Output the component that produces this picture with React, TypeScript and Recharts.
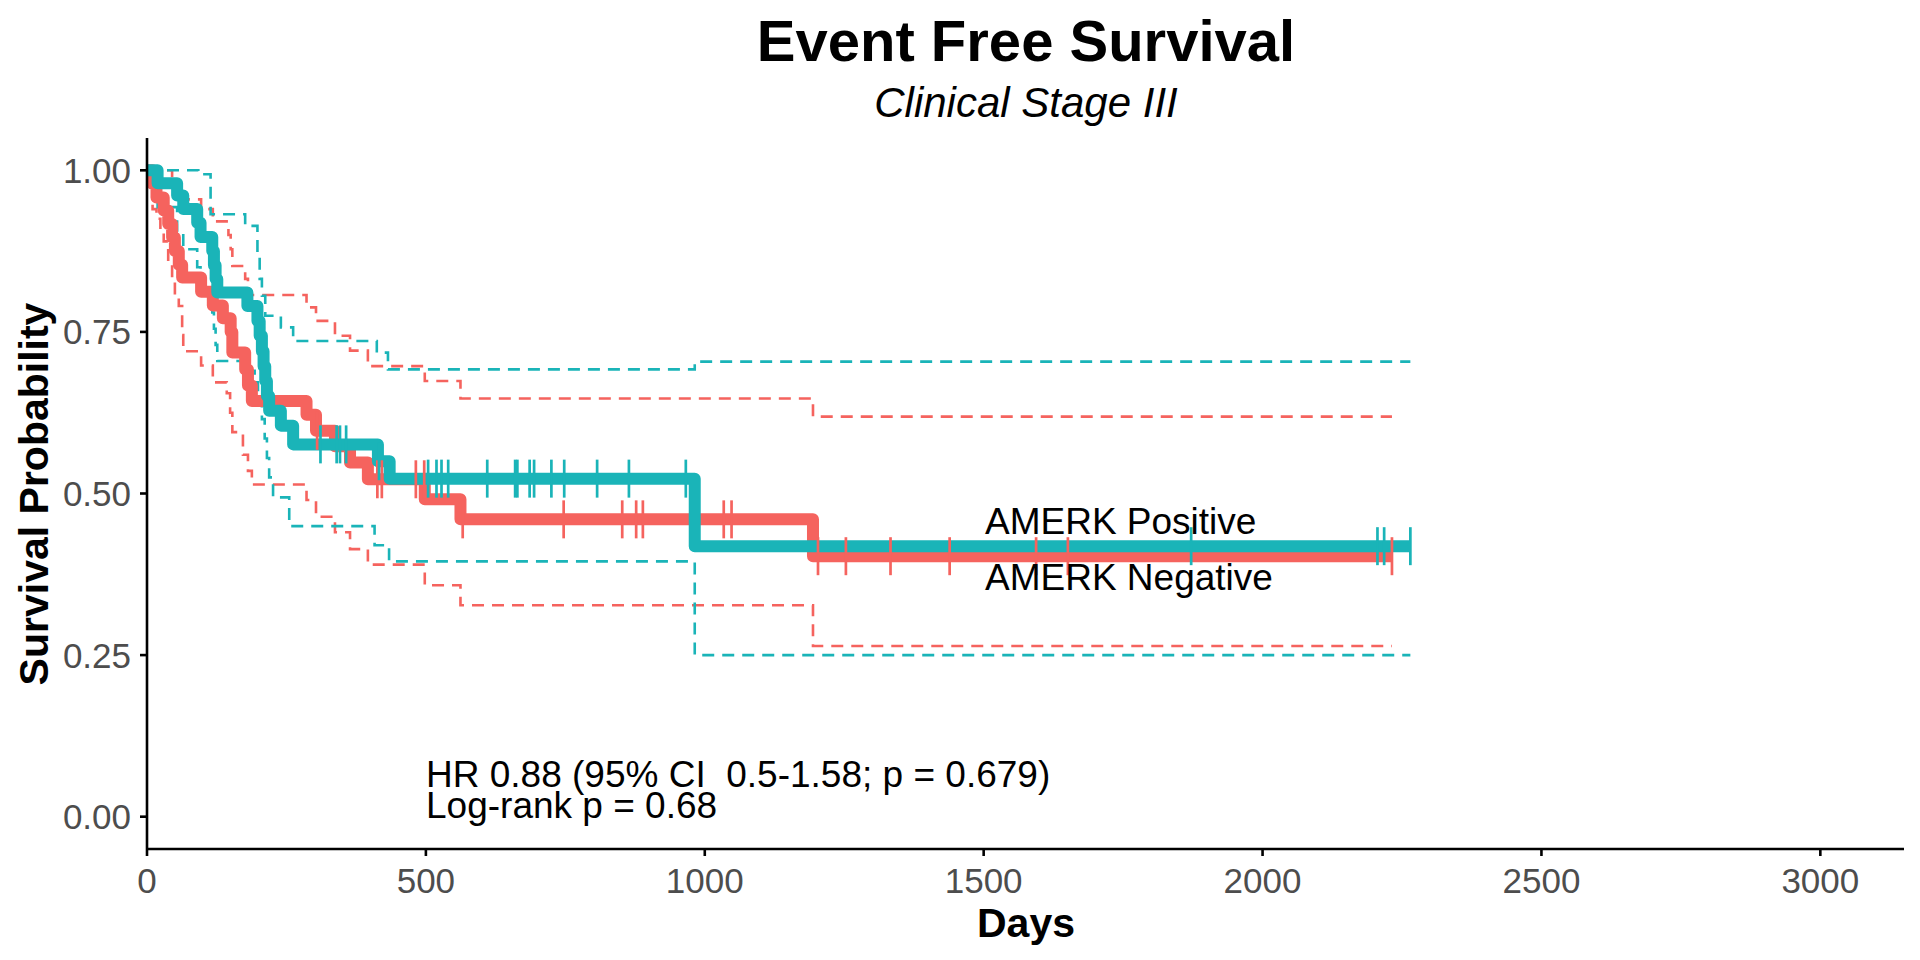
import { ComposedChart, Line, Scatter, XAxis, YAxis } from 'recharts'

const NEG = '#F5635E'
const POS = '#1AB4B8'
const FONT = '"Liberation Sans", Arial, sans-serif'

// Kaplan-Meier steps: [day, survival]
const negSurv = [
  [0, 1], [10, 0.979], [17, 0.958], [30, 0.938], [38, 0.917], [45, 0.896], [50, 0.875],
  [57, 0.854], [63, 0.834], [97, 0.812], [118, 0.791], [136, 0.771], [150, 0.75],
  [153, 0.718], [176, 0.692], [181, 0.667], [188, 0.643], [286, 0.622], [303, 0.597],
  [337, 0.573], [364, 0.548], [396, 0.522], [498, 0.491], [562, 0.46], [1194, 0.403],
  [2232, 0.403],
]
const negUpper = [
  [0, 1], [45, 0.987], [50, 0.974], [57, 0.962], [63, 0.955], [97, 0.94], [118, 0.921],
  [146, 0.9], [150, 0.878], [153, 0.852], [176, 0.832], [181, 0.807], [286, 0.788],
  [303, 0.767], [337, 0.744], [364, 0.721], [396, 0.697], [498, 0.674], [562, 0.647],
  [1194, 0.619], [2232, 0.619],
]
const negLower = [
  [0, 1], [10, 0.94], [17, 0.925], [24, 0.905], [30, 0.89], [38, 0.857], [45, 0.83],
  [50, 0.81], [57, 0.79], [63, 0.745], [65, 0.72], [97, 0.698], [118, 0.672], [143, 0.655],
  [149, 0.625], [153, 0.595], [172, 0.56], [181, 0.535], [188, 0.514], [286, 0.49],
  [303, 0.464], [337, 0.44], [364, 0.414], [396, 0.39], [498, 0.358], [562, 0.327],
  [1194, 0.264], [2232, 0.264],
]
const posSurv = [
  [0, 1], [19, 0.98], [54, 0.961], [65, 0.94], [90, 0.919], [96, 0.897], [117, 0.875],
  [120, 0.853], [123, 0.832], [126, 0.811], [180, 0.79], [198, 0.767], [202, 0.744],
  [206, 0.72], [209, 0.697], [212, 0.674], [215, 0.651], [219, 0.628], [240, 0.605],
  [262, 0.576], [414, 0.55], [435, 0.523], [982, 0.4185], [2265, 0.4185],
]
const posUpper = [
  [0, 1], [92, 0.994], [114, 0.932], [176, 0.914], [198, 0.872], [202, 0.832],
  [206, 0.806], [212, 0.775], [240, 0.757], [262, 0.736], [412, 0.718], [432, 0.692],
  [982, 0.704], [2265, 0.704],
]
const posLower = [
  [0, 1], [19, 0.943], [54, 0.905], [65, 0.878], [90, 0.85], [96, 0.825], [109, 0.81],
  [117, 0.78], [120, 0.755], [123, 0.73], [126, 0.705], [172, 0.69], [193, 0.672],
  [199, 0.643], [206, 0.615], [211, 0.585], [215, 0.555], [219, 0.525], [226, 0.494],
  [255, 0.4496], [408, 0.42], [434, 0.395], [982, 0.25], [2265, 0.25],
]

// censoring marks (days)
const negCensor = [305, 413, 421, 482, 497, 566, 747, 852, 877, 889, 1034, 1048, 1203, 1253, 1333, 1439, 1594, 1651, 2232]
const posCensor = [
  311, 340, 346, 357, 416, 504, 519, 528, 540, 610, 660, 664, 686, 694, 725, 748, 807, 864,
  966, 1872, 2206, 2218, 2265,
]

const xTicks = [0, 500, 1000, 1500, 2000, 2500, 3000]
const yTicks = [0, 0.25, 0.5, 0.75, 1]

const toPts = (rows: number[][]) => rows.map(([t, s]) => ({ t, s }))
const survAt = (rows: number[][], t: number) => {
  let s = rows[0][1]
  for (const r of rows) if (r[0] <= t) s = r[1]
  return s
}
const censorPts = (days: number[], rows: number[][]) => days.map((t) => ({ t, s: survAt(rows, t) }))

const tickMark = (color: string) => (props: any) => (
  <line x1={props.cx} x2={props.cx} y1={props.cy - 19} y2={props.cy + 19} stroke={color} strokeWidth={2.7} />
)

export default function App() {
  const tickStyle = { fill: '#4D4D4D', fontSize: 35, fontFamily: FONT }
  const axisStyle = { stroke: '#000', strokeWidth: 2.6 }
  const txt = { fontFamily: FONT, fill: '#000' }

  return (
    <div style={{ position: 'absolute', left: 0, top: 0, width: 1920, height: 960, background: '#fff' }}>
      <ComposedChart width={1920} height={960} margin={{ top: 138, right: 16, bottom: 0, left: 0 }}>
        <XAxis
          type="number"
          dataKey="t"
          domain={[0, 3150]}
          ticks={xTicks}
          allowDataOverflow
          height={111}
          tickSize={7}
          tickMargin={12}
          tick={tickStyle}
          axisLine={axisStyle}
          tickLine={axisStyle}
        />
        <YAxis
          type="number"
          dataKey="s"
          domain={[-0.05, 1.05]}
          ticks={yTicks}
          allowDataOverflow
          width={147}
          tickSize={7}
          tickMargin={9}
          tick={tickStyle}
          tickFormatter={(v: number) => v.toFixed(2)}
          axisLine={axisStyle}
          tickLine={axisStyle}
        />
        {[
          [negUpper, NEG],
          [negLower, NEG],
          [posUpper, POS],
          [posLower, POS],
        ].map(([rows, color], i) => (
          <Line
            key={i}
            data={toPts(rows as number[][])}
            dataKey="s"
            type="stepAfter"
            stroke={color as string}
            strokeWidth={2.6}
            strokeDasharray="12 8"
            dot={false}
            isAnimationActive={false}
          />
        ))}
        <Line
          data={toPts(negSurv)}
          dataKey="s"
          type="stepAfter"
          stroke={NEG}
          strokeWidth={12}
          strokeLinejoin="round"
          dot={false}
          isAnimationActive={false}
        />
        <Line
          data={toPts(posSurv)}
          dataKey="s"
          type="stepAfter"
          stroke={POS}
          strokeWidth={12}
          strokeLinejoin="round"
          dot={false}
          isAnimationActive={false}
        />
        <Scatter data={censorPts(negCensor, negSurv)} dataKey="s" shape={tickMark(NEG)} isAnimationActive={false} />
        <Scatter data={censorPts(posCensor, posSurv)} dataKey="s" shape={tickMark(POS)} isAnimationActive={false} />
      </ComposedChart>

      <svg width={1920} height={960} style={{ position: 'absolute', left: 0, top: 0, pointerEvents: 'none' }}>
        <text x={1026} y={61} textAnchor="middle" fontSize={58} fontWeight="bold" {...txt}>
          Event Free Survival
        </text>
        <text x={1026} y={117} textAnchor="middle" fontSize={42} fontStyle="italic" {...txt}>
          Clinical Stage III
        </text>
        <text x={1026} y={937} textAnchor="middle" fontSize={41} fontWeight="bold" {...txt}>
          Days
        </text>
        <text
          x={0}
          y={0}
          transform="translate(48,494) rotate(-90)"
          textAnchor="middle"
          fontSize={41}
          fontWeight="bold"
          {...txt}
        >
          Survival Probability
        </text>
        <text x={985} y={534} fontSize={37} {...txt}>
          AMERK Positive
        </text>
        <text x={985} y={590} fontSize={37} {...txt}>
          AMERK Negative
        </text>
        <text x={426} y={787} fontSize={37} {...txt} style={{ whiteSpace: 'pre' }}>
          {'HR 0.88 (95% CI  0.5-1.58; p = 0.679)'}
        </text>
        <text x={426} y={818} fontSize={37} {...txt}>
          Log-rank p = 0.68
        </text>
      </svg>
    </div>
  )
}
